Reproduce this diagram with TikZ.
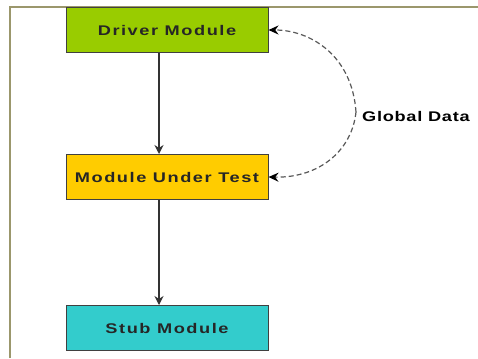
\documentclass[tikz,border=0pt]{standalone}
\usepackage{fontspec}
\setmainfont{Liberation Sans}
\usetikzlibrary{arrows.meta}
\begin{document}
\begin{tikzpicture}[x=1pt,y=-1pt,
  modbox/.style={draw=black!75, line width=1pt, minimum width=202pt, minimum height=45pt, inner sep=0pt,
    font=\fontsize{14}{16}\selectfont\bfseries\addfontfeature{FakeStretch=1.3,LetterSpace=11}, text=black!85},
  flow/.style={draw=black!80, line width=1.2pt, -{Stealth[length=9pt,width=9pt]}},
  dataflow/.style={draw=black!65, line width=1.2pt, dashed, dash pattern=on 5pt off 3pt, -{Stealth[length=10pt,width=9pt,black]}}]
\useasboundingbox (0,0) rectangle (478,358);
\fill[white] (0,0) rectangle (478,358);
\draw[color=black!50!olive!60, line width=2pt] (10,358) -- (10,7) -- (478,7);
\node[modbox, fill={rgb,255:red,153;green,204;blue,0}] (drv) at (167,30) {Driver Module};
\node[modbox, fill={rgb,255:red,255;green,204;blue,0}] (mut) at (167,177) {Module Under Test};
\node[modbox, fill={rgb,255:red,51;green,204;blue,204}] (stub) at (167,328) {Stub Module};
\draw[flow] (drv.south -| 159,0) -- (mut.north -| 159,0);
\draw[flow] (mut.south -| 159,0) -- (stub.north -| 159,0);
\coordinate (mid) at (356,112);
\draw[dataflow] (mid) .. controls (352,55) and (310,30) .. (drv.east);
\draw[dataflow] (mid) .. controls (352,150) and (320,178) .. (mut.east);
\node[anchor=west, font=\fontsize{14}{16}\selectfont\bfseries\addfontfeature{FakeStretch=1.3,LetterSpace=5}, inner sep=0pt] (gd) at (362,116) {Global Data};
\end{tikzpicture}
\end{document}
